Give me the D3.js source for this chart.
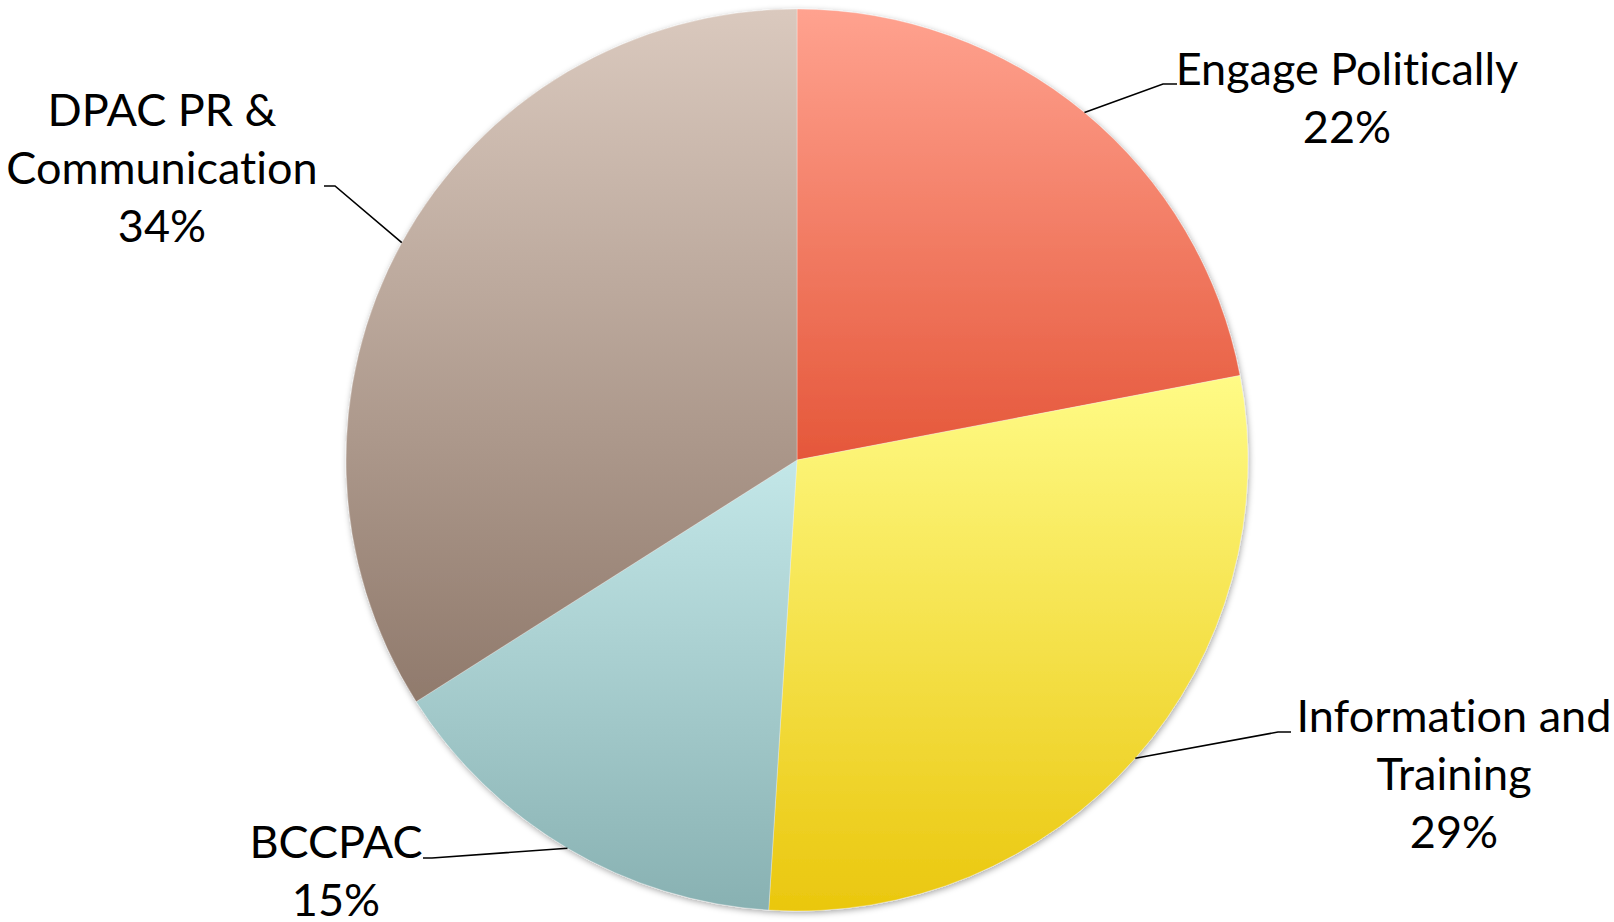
<head>
    <meta charset="utf-8">
    <style type="text/css">
        body { margin: 0; background: #ffffff; }
        .label { font-family: Lato, "Open Sans", sans-serif; font-size: 45px; fill: #000000;
                 font-variant-ligatures: none; font-feature-settings: "liga" 0, "clig" 0; }
    </style>
    <script src="https://cdnjs.cloudflare.com/ajax/libs/d3/7.8.5/d3.min.js"></script>
</head>
<body>
    <div id="pie"></div>
    <script>
        // data
        const categories = ["Engage Politically", "Information and Training", "BCCPAC", "DPAC PR & Communication"];
        const values = [22, 29, 15, 34];
        const labelLines = [
            ["Engage Politically"],
            ["Information and", "Training"],
            ["BCCPAC"],
            ["DPAC PR &", "Communication"]
        ];
        // gradient stops: top, bottom
        const topColors = ["#ffa28f", "#fffb86", "#c3e7e8", "#dac9be"];
        const bottomColors = ["#e5573a", "#eac70e", "#88b1b2", "#907a6c"];

        const width = 1614, height = 922;
        const center = [797, 460];
        const radius = 451;

        // label placement: text center x, first baseline y, elbow point, end of leader
        const labelLayout = [
            { x: 1347, y: 85, elbow: [1163, 84], end: [1177, 84] },
            { x: 1454, y: 732, elbow: [1278, 732], end: [1291, 732] },
            { x: 336, y: 858, elbow: [432, 858], end: [423, 858] },
            { x: 162, y: 126, elbow: [335, 186], end: [324, 186] }
        ];
        const lineStep = 58;

        const data = categories.map((c, i) => ({ name: c, value: values[i], i: i }));

        const svg = d3.select("#pie")
            .append("svg")
            .attr("width", width)
            .attr("height", height);

        const defs = svg.append("defs");

        const shadow = defs.append("filter")
            .attr("id", "shadow")
            .attr("x", "-10%").attr("y", "-10%")
            .attr("width", "120%").attr("height", "120%");
        shadow.append("feDropShadow")
            .attr("dx", 1).attr("dy", 2)
            .attr("stdDeviation", 3)
            .attr("flood-color", "#000")
            .attr("flood-opacity", 0.35);

        data.forEach((d, i) => {
            const g = defs.append("linearGradient")
                .attr("id", "grad" + i)
                .attr("x1", 0).attr("y1", 0)
                .attr("x2", 0).attr("y2", 1);
            g.append("stop").attr("offset", "0%").attr("stop-color", topColors[i]);
            g.append("stop").attr("offset", "100%").attr("stop-color", bottomColors[i]);
        });

        const pie = d3.pie().sort(null).value(d => d.value);
        const arc = d3.arc().innerRadius(0).outerRadius(radius);
        const arcs = pie(data);

        const chart = svg.append("g")
            .attr("transform", `translate(${center[0]},${center[1]})`);

        chart.append("g")
            .attr("filter", "url(#shadow)")
            .selectAll("path")
            .data(arcs)
            .enter().append("path")
            .attr("d", arc)
            .attr("fill", d => `url(#grad${d.index})`)
            .attr("stroke", "#ffffff")
            .attr("stroke-opacity", 0.5)
            .attr("stroke-width", 0.6);

        // leader lines start at the slice's mid angle on the rim
        const leaders = svg.append("g");
        arcs.forEach((d, i) => {
            const mid = (d.startAngle + d.endAngle) / 2;
            const sx = center[0] + radius * Math.sin(mid);
            const sy = center[1] - radius * Math.cos(mid);
            const L = labelLayout[i];
            leaders.append("polyline")
                .attr("points", [[sx, sy], L.elbow, L.end].map(p => p.join(",")).join(" "))
                .attr("fill", "none")
                .attr("stroke", "#000")
                .attr("stroke-width", 1.6);
        });

        const fmt = d3.format(".0%");
        const labels = svg.append("g");
        arcs.forEach((d, i) => {
            const L = labelLayout[i];
            const lines = labelLines[i].concat([fmt(d.value / d3.sum(values))]);
            const t = labels.append("text")
                .attr("class", "label")
                .attr("text-anchor", "middle")
                .attr("x", L.x)
                .attr("y", L.y);
            lines.forEach((s, k) => {
                t.append("tspan")
                    .attr("x", L.x)
                    .attr("dy", k === 0 ? 0 : lineStep)
                    .text(s);
            });
        });
    </script>
</body>
